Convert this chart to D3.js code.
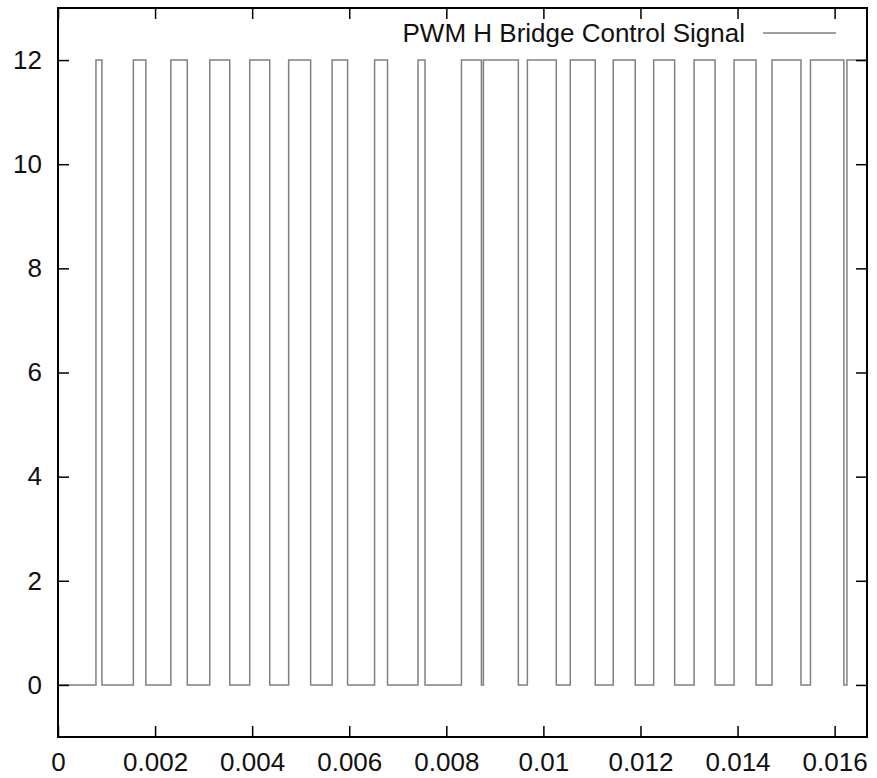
<!DOCTYPE html>
<html>
<head>
<meta charset="utf-8">
<script src="https://cdn.jsdelivr.net/npm/d3@7"></script>
<style>
  html, body { margin: 0; padding: 0; background: #fff; }
  svg { display: block; font-family: "Liberation Sans", Arial, Helvetica, sans-serif; }
</style>
</head>
<body>
<svg id="chart"></svg>
<script>
// time axis
const xTickValues = [0, 0.002, 0.004, 0.006, 0.008, 0.01, 0.012, 0.014, 0.016];
const xTickLabels = ['0', '0.002', '0.004', '0.006', '0.008', '0.01', '0.012', '0.014', '0.016'];
const yTickValues = [0, 2, 4, 6, 8, 10, 12];
const xDomain = [0, 0.016667];
const yDomain = [-1, 13];

// PWM switching instants (s) and level after each switch (V)
const switchTimes = [
  0, 0.000782, 0.000905, 0.001553, 0.001810, 0.002325, 0.002664, 0.003127, 0.003539,
  0.003950, 0.004362, 0.004752, 0.005205, 0.005647, 0.005966, 0.006522, 0.006789,
  0.007417, 0.007561, 0.008312, 0.008723, 0.008764, 0.009484, 0.009670, 0.010266,
  0.010554, 0.011069, 0.011439, 0.011892, 0.012272, 0.012704, 0.013105, 0.013537,
  0.013928, 0.014381, 0.014710, 0.015307, 0.015502, 0.016191, 0.016253
];
const switchLevels = [
  0, 12, 0, 12, 0, 12, 0, 12, 0,
  12, 0, 12, 0, 12, 0, 12, 0,
  12, 0, 12, 0, 12, 0, 12, 0,
  12, 0, 12, 0, 12, 0, 12, 0,
  12, 0, 12, 0, 12, 0, 12
];
const seriesName = 'PWM H Bridge Control Signal';

const width = 877;
const height = 778;
const margin = {top: 8, right: 10, bottom: 41, left: 58};
const tickLen = 11;
const fontSize = '26px';

const svg = d3.select('#chart')
  .attr('width', width)
  .attr('height', height);

const xScale = d3.scaleLinear()
  .domain(xDomain)
  .range([margin.left, width - margin.right]);

const yScale = d3.scaleLinear()
  .domain(yDomain)
  .range([height - margin.bottom, margin.top]);

// signal
const points = switchTimes.map((t, i) => ({t: t, v: switchLevels[i]}));
points.push({t: xDomain[1], v: switchLevels[switchLevels.length - 1]});

const line = d3.line()
  .x(d => xScale(d.t))
  .y(d => yScale(d.v))
  .curve(d3.curveStepAfter);

svg.append('path')
  .datum(points)
  .attr('fill', 'none')
  .attr('stroke', '#808080')
  .attr('stroke-width', 1.5)
  .attr('d', line);

// axes (gnuplot style: inward ticks mirrored on all sides)
const fmtX = (d, i) => xTickLabels[i];

svg.append('g')
  .attr('class', 'xAxis')
  .attr('transform', `translate(0, ${height - margin.bottom})`)
  .call(d3.axisBottom(xScale).tickValues(xTickValues).tickFormat(fmtX)
    .tickSizeInner(-tickLen).tickSizeOuter(0).tickPadding(16));

svg.append('g')
  .attr('class', 'xAxisTop')
  .attr('transform', `translate(0, ${margin.top})`)
  .call(d3.axisTop(xScale).tickValues(xTickValues).tickFormat('')
    .tickSizeInner(-tickLen).tickSizeOuter(0));

svg.append('g')
  .attr('class', 'yAxis')
  .attr('transform', `translate(${margin.left}, 0)`)
  .call(d3.axisLeft(yScale).tickValues(yTickValues).tickFormat(d3.format('d'))
    .tickSizeInner(-tickLen).tickSizeOuter(0).tickPadding(16));

svg.append('g')
  .attr('class', 'yAxisRight')
  .attr('transform', `translate(${width - margin.right}, 0)`)
  .call(d3.axisRight(yScale).tickValues(yTickValues).tickFormat('')
    .tickSizeInner(-tickLen).tickSizeOuter(0));

svg.selectAll('.tick line')
  .attr('stroke', '#000')
  .attr('stroke-width', 1.5);
svg.selectAll('.domain').remove();
svg.selectAll('.tick text')
  .attr('fill', '#111')
  .style('font-size', fontSize)
  .style('font-family', '"Liberation Sans", Arial, sans-serif');

// frame
svg.append('rect')
  .attr('x', margin.left)
  .attr('y', margin.top)
  .attr('width', width - margin.left - margin.right)
  .attr('height', height - margin.top - margin.bottom)
  .attr('fill', 'none')
  .attr('stroke', '#000')
  .attr('stroke-width', 2);

// legend
const legend = svg.append('g')
  .attr('transform', 'translate(745, 33)');
legend.append('text')
  .attr('x', 0)
  .attr('y', 0)
  .attr('dy', '0.35em')
  .attr('text-anchor', 'end')
  .attr('fill', '#111')
  .style('font-size', fontSize)
  .text(seriesName);
legend.append('line')
  .attr('x1', 18)
  .attr('x2', 91)
  .attr('y1', 0)
  .attr('y2', 0)
  .attr('stroke', '#808080')
  .attr('stroke-width', 1.5);
</script>
</body>
</html>
